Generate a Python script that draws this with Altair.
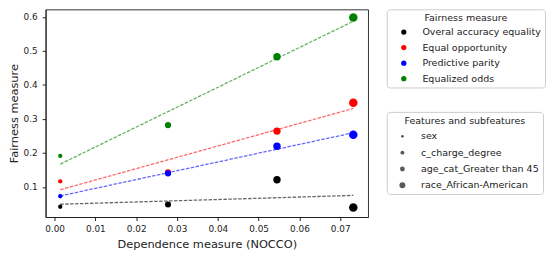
import altair as alt
import pandas as pd

# ---- data ----
dependence = [0.0014, 0.0278, 0.0545, 0.0732]
features = ["sex", "c_charge_degree", "age_cat_Greater than 45", "race_African-American"]
measures = ["Overal accuracy equality", "Equal opportunity", "Predictive parity", "Equalized odds"]
colors = ["black", "red", "blue", "green"]
overall_acc = [0.0417, 0.0484, 0.121, 0.0397]
equal_opp = [0.1163, 0.1426, 0.264, 0.3475]
pred_parity = [0.0726, 0.1397, 0.2195, 0.2534]
eq_odds = [0.191, 0.2816, 0.4825, 0.598]
x_ticks = [0.0, 0.01, 0.02, 0.03, 0.04, 0.05, 0.06, 0.07]
y_ticks = [0.1, 0.2, 0.3, 0.4, 0.5, 0.6]

series = [overall_acc, equal_opp, pred_parity, eq_odds]
rows = []
for m, vals in zip(measures, series):
    for xv, f, yv in zip(dependence, features, vals):
        rows.append({"measure": m, "feature": f, "x": xv, "y": yv})
df = pd.DataFrame(rows)

FONT = "DejaVu Sans"
TXT = "#222222"

xenc = alt.X(
    "x:Q",
    scale=alt.Scale(domain=[-0.0022, 0.0768], nice=False, zero=False),
    axis=alt.Axis(title="Dependence measure (NOCCO)", values=x_ticks, format=".2f",
                  labelPadding=4, titleX=163, titleY=30.7, titleBaseline="alphabetic"),
)
yenc = alt.Y(
    "y:Q",
    scale=alt.Scale(domain=[0.0115, 0.622], nice=False, zero=False),
    axis=alt.Axis(title="Fairness measure", values=y_ticks, format=".1f",
                  labelPadding=5, titleX=-28.5, titleY=105, titleBaseline="alphabetic"),
)
color_scale = alt.Scale(domain=measures, range=colors)

legend_common = dict(
    orient="none", padding=4, labelOffset=14, titleAnchor="middle",
    strokeColor="#cccccc", fillColor="white", cornerRadius=3,
    labelFontSize=9.6, titleFontSize=9.6, titleFontWeight="normal",
    labelFont=FONT, titleFont=FONT, labelColor=TXT, titleColor=TXT,
    symbolStrokeWidth=0, symbolType="circle",
)

base = alt.Chart(df)

dummy = base.mark_circle(color="#5a5a5a", opacity=1).encode(
    x=xenc, y=yenc,
    size=alt.Size("feature:N", sort=features,
                  scale=alt.Scale(type="ordinal", domain=features, range=[8, 16, 24, 36]),
                  legend=alt.Legend(title="Features and subfeatures", legendX=345, legendY=103.7,
                                    symbolOffset=7, rowPadding=5.5, titlePadding=6.3,
                                    symbolFillColor="#5a5a5a", symbolOpacity=1,
                                    **legend_common)),
)

lines = base.transform_regression("x", "y", groupby=["measure"]).mark_line(
    strokeDash=[3.5, 1.5], strokeWidth=1.3, opacity=0.6
).encode(
    x=xenc, y=yenc,
    color=alt.Color("measure:N", scale=color_scale, legend=None),
)

points = base.mark_circle(opacity=1).encode(
    x=xenc, y=yenc,
    color=alt.Color("measure:N", scale=color_scale,
                    legend=alt.Legend(title="Fairness measure", legendX=345, legendY=0,
                                      symbolOffset=8.4, rowPadding=4.7, titlePadding=4.6,
                                      symbolSize=28, **legend_common)),
    size=alt.Size("feature:N", sort=features,
                  scale=alt.Scale(type="ordinal", domain=features, range=[19, 38, 56, 74]),
                  legend=None),
)

chart = alt.layer(dummy, lines, points).resolve_scale(size="independent").resolve_legend(
    color="independent"
).properties(
    width=326, height=210, autosize="none",
    padding={"left": 38, "top": 0, "right": 180, "bottom": 32},
).configure_view(stroke="#333333", strokeWidth=1).configure_axis(
    grid=False, labelFont=FONT, titleFont=FONT, labelFontSize=9, titleFontSize=11.5,
    titleFontWeight="normal", labelColor=TXT, titleColor=TXT, tickColor=TXT,
    domainColor=TXT, tickSize=3.5,
)

chart.save("out.html", embed_options={"renderer": "svg", "actions": False})
